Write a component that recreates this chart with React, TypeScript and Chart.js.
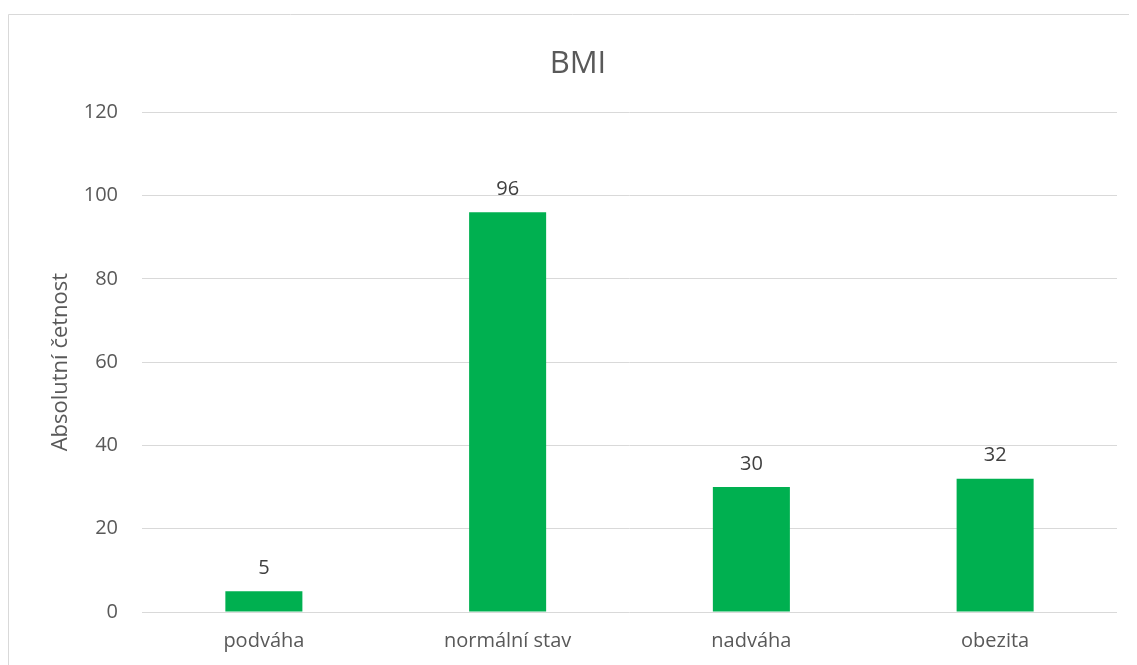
import React, { useEffect, useRef } from "react";
import { Chart, registerables } from "chart.js";

Chart.register(...registerables);

const categories = ["podváha", "normální stav", "nadváha", "obezita"];
const values = [5, 96, 30, 32];
const yTicks = [0, 20, 40, 60, 80, 100, 120];
const chartTitle = "BMI";
const yAxisTitle = "Absolutní četnost";

const FONT = "'Open Sans', 'Noto Sans', sans-serif";

const framePlugin = {
  id: "frame",
  beforeDraw(chart: any) {
    const ctx = chart.ctx;
    ctx.save();
    ctx.fillStyle = "#ffffff";
    ctx.fillRect(0, 0, chart.width, chart.height);
    ctx.strokeStyle = "#d9d9d9";
    ctx.lineWidth = 1;
    ctx.beginPath();
    ctx.moveTo(0.5, chart.height);
    ctx.lineTo(0.5, 6.5);
    ctx.lineTo(chart.width, 6.5);
    ctx.stroke();
    ctx.restore();
  },
};

const labelPlugin = {
  id: "valueLabels",
  afterDatasetsDraw(chart: any) {
    const ctx = chart.ctx;
    const meta = chart.getDatasetMeta(0);
    const data = chart.data.datasets[0].data;
    ctx.save();
    ctx.fillStyle = "#404040";
    ctx.font = `20px ${FONT}`;
    ctx.textAlign = "center";
    ctx.textBaseline = "middle";
    meta.data.forEach((bar: any, i: number) => {
      ctx.fillText(String(data[i]), bar.x, bar.y - 23);
    });
    ctx.restore();
  },
};

export default function App() {
  const ref = useRef<HTMLCanvasElement>(null);
  useEffect(() => {
    if (!ref.current) return;
    const chart = new Chart(ref.current, {
      type: "bar",
      data: {
        labels: categories,
        datasets: [
          {
            data: values,
            backgroundColor: "#00b050",
            categoryPercentage: 1,
            barPercentage: 0.316,
          },
        ],
      },
      options: {
        animation: false,
        responsive: false,
        maintainAspectRatio: false,
        layout: { padding: { left: 31, right: 20, top: 0, bottom: 0 } },
        plugins: {
          legend: { display: false },
          tooltip: { enabled: false },
          title: {
            display: true,
            text: chartTitle,
            color: "#595959",
            font: { family: FONT, size: 31, weight: "normal" },
            padding: { top: 38, bottom: 29 },
          },
        },
        scales: {
          x: {
            grid: { display: false, drawTicks: false },
            border: { display: false },
            ticks: {
              color: "#595959",
              font: { family: FONT, size: 20 },
              padding: 17,
            },
            afterFit(scale: any) {
              scale.height = 53;
            },
          },
          y: {
            min: 0,
            max: 120,
            afterBuildTicks(scale: any) {
              scale.ticks = yTicks.map((v) => ({ value: v }));
            },
            grid: { color: "#d9d9d9", drawTicks: false, lineWidth: 1 },
            border: { display: false },
            ticks: {
              color: "#595959",
              font: { family: FONT, size: 20 },
              padding: 24,
            },
            title: {
              display: true,
              text: yAxisTitle,
              color: "#595959",
              font: { family: FONT, size: 22, weight: "normal" },
              padding: { top: 9, bottom: 0 },
            },
            afterFit(scale: any) {
              scale.width = 103;
            },
          },
        },
      },
      plugins: [framePlugin, labelPlugin],
    });
    return () => chart.destroy();
  }, []);
  return (
    <div style={{ width: 1129, height: 657, overflow: "hidden" }}>
      <canvas ref={ref} width={1129} height={657} style={{ display: "block" }} />
    </div>
  );
}
